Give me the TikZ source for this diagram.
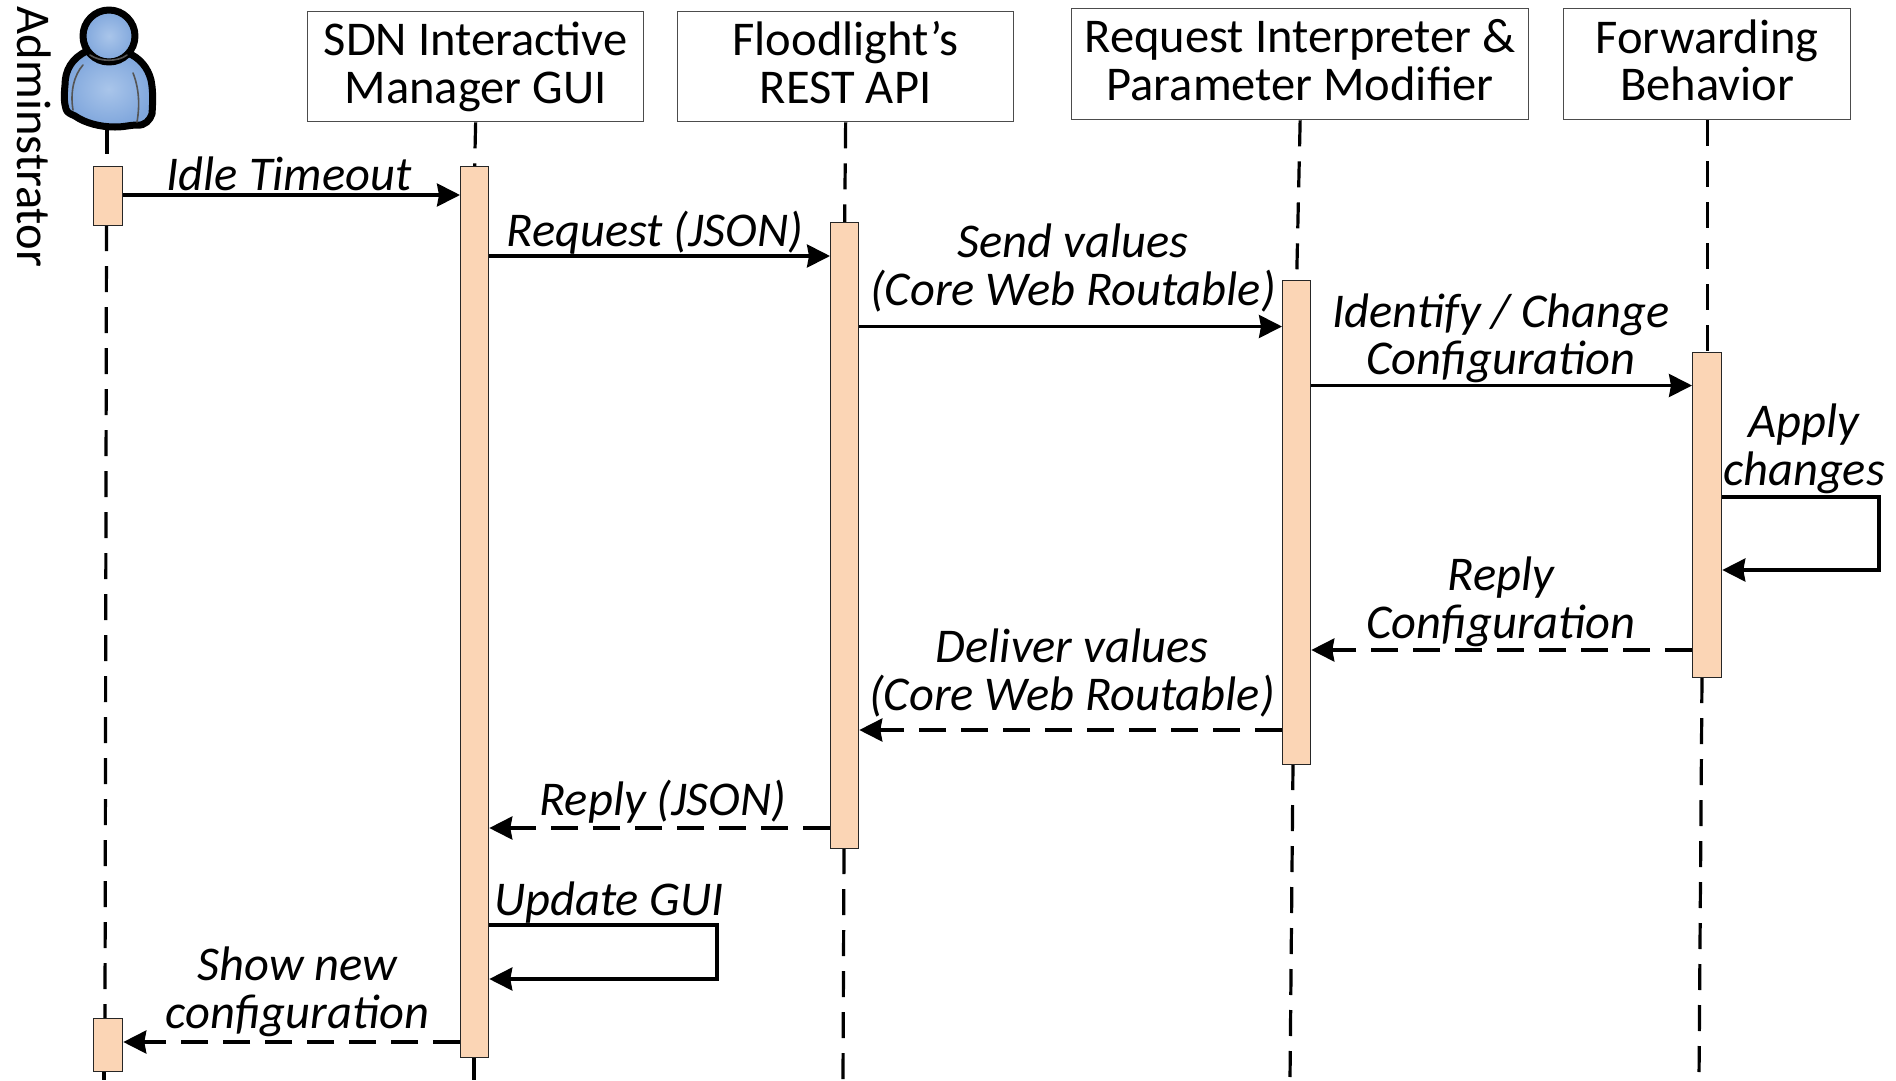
\documentclass[tikz,border=0pt]{standalone}
\usepackage{fontspec}
\setmainfont{Carlito}
\usetikzlibrary{arrows.meta,backgrounds}
\definecolor{barfill}{HTML}{FBD5B5}
\definecolor{bluelo}{HTML}{7FA6DC}
\definecolor{bluehi}{HTML}{A9C5EA}
\definecolor{seam}{HTML}{555555}
\tikzset{
  x=1pt,y=-1pt,
  lifebox/.style={draw=black!70,line width=1.3pt,fill=white,inner sep=0pt,align=center,font=\fontsize{48.5}{47.5}\selectfont,anchor=north west},
  bar/.style={draw=black!85,line width=1.3pt,fill=barfill,inner sep=0pt,anchor=north west},
  msg/.style={line width=3.2pt,-{Stealth[length=23pt,width=23pt,inset=2pt]}},
  reply/.style={msg,dash pattern=on 27pt off 15pt},
  life/.style={line width=3.2pt,dash pattern=on 26pt off 15pt},
  lbl/.style={inner sep=0pt,align=center,font=\fontsize{48.5}{47.5}\selectfont\itshape},
  personline/.style={line width=7pt,draw=black,line join=round,inner color=bluehi,outer color=bluelo},
  seamline/.style={line width=1.6pt,draw=seam,line cap=round},
}
\newcommand{\lifebox}[6]{\node[lifebox,minimum width=#4pt,minimum height=#5pt] (#1) at (#2,#3) {#6};}
\newcommand{\barbox}[5]{\node[bar,minimum width=#4pt,minimum height=#5pt] (#1) at (#2,#3) {};}
\begin{document}
\begin{tikzpicture}
\useasboundingbox (0,0) rectangle (1896,1080);
% participants
\lifebox{sdn}{307}{11}{336}{110}{SDN Interactive\\Manager GUI}
\lifebox{flood}{677}{11}{336}{110}{Floodlight’s\\REST API\vphantom{g}}
\lifebox{req}{1071}{8}{457}{111}{Request Interpreter \&\\Parameter Modifier\vphantom{g}}
\lifebox{fwd}{1563}{8}{287}{111}{Forwarding\\Behavior\vphantom{g}}
\node[rotate=-90,inner sep=0pt,font=\fontsize{48.5}{47.5}\selectfont] (admintext) at (34,137) {Adminstrator};
% activations
\barbox{a1}{93}{166}{29}{59}
\barbox{a2}{93}{1018}{29}{53}
\barbox{s1}{460}{166}{28}{891}
\barbox{f1}{830}{222}{28}{626}
\barbox{r1}{1282}{280}{28}{484}
\barbox{w1}{1692}{352}{29}{325}
% lifeline free ends
\coordinate (adminfoot) at (107,128);
\coordinate (a1foot) at (106.5,225);
\coordinate (a2top) at (105,1018);
\coordinate (a2foot) at (104,1071);
\coordinate (aend) at (104,1080);
\coordinate (send) at (474,1080);
\coordinate (fend) at (843,1080);
\coordinate (rend) at (1290,1080);
\coordinate (wend) at (1699,1080);
\coordinate (ss) at (474,1057);
\coordinate (fs) at (844,848);
\coordinate (rs) at (1293,764);
\coordinate (ws) at (1702,677);
\begin{scope}[on background layer]
\fill[white] (0,0) rectangle (1896,1080);
\draw[life] (adminfoot) -- (a1.north -| adminfoot);
\draw[life] (a1foot) -- (a2top);
\draw[life] (a2foot) -- (aend);
\draw[life] (sdn.south) -- (s1.north);
\draw[life] (ss) -- (send);
\draw[life] (flood.south) -- (f1.north);
\draw[life] (fs) -- (fend);
\draw[life] (req.south) -- (r1.north);
\draw[life] (rs) -- (rend);
\draw[life] (fwd.south) -- (w1.north);
\draw[life] (ws) -- (wend);
\end{scope}
% person icon
\path[personline] (87,51) .. controls (72,58) and (65,70) .. (65,85)
  .. controls (64,95) and (64,103) .. (66,109)
  .. controls (67,113) and (71,114) .. (75,116)
  .. controls (85,123) and (100,127) .. (115,127)
  .. controls (125,127) and (130,125) .. (137,125)
  .. controls (145,126) and (150,120) .. (152,114)
  .. controls (153,100) and (153,90) .. (151,80)
  .. controls (148,68) and (140,58) .. (128,53) -- cycle;
\path[personline] (109,36) circle[radius=26];
\draw[seamline] (90,55) .. controls (100,62) and (118,62) .. (127,55);
\draw[seamline] (83,65) .. controls (74,75) and (70,92) .. (73,110);
\draw[seamline] (133,73) .. controls (139,88) and (140,105) .. (137,122);
% messages
\draw[msg] (a1.east |- 0,195) -- (s1.west |- 0,195);
\draw[msg] (s1.east |- 0,256) -- (f1.west |- 0,256);
\draw[msg] (f1.east |- 0,326.5) -- (r1.west |- 0,326.5);
\draw[msg] (r1.east |- 0,385.5) -- (w1.west |- 0,385.5);
\draw[msg] (w1.east |- 0,497) -| (1879,570) -- (w1.east |- 0,570);
\draw[reply] (w1.west |- 0,650) -- (r1.east |- 0,650);
\draw[reply] (r1.west |- 0,730) -- (f1.east |- 0,730);
\draw[reply] (f1.west |- 0,828) -- (s1.east |- 0,828);
\draw[msg] (s1.east |- 0,925) -| (717,979) -- (s1.east |- 0,979);
\draw[reply] (s1.west |- 0,1042) -- (a2.east |- 0,1042);
% labels
\node[lbl] (l1) at (289,174) {Idle Timeout};
\node[lbl] (l2) at (655,233) {Request (JSON)};
\node[lbl] (l3) at (1073,268) {Send values\\(Core Web Routable)};
\node[lbl] (l4) at (1501,338.5) {Identify / Change\\Configuration};
\node[lbl] (l5) at (1804,449) {Apply\\changes};
\node[lbl] (l6) at (1501,602) {Reply\\Configuration};
\node[lbl] (l7) at (1072,673) {Deliver values\\(Core Web Routable)};
\node[lbl] (l8) at (663,801.5) {Reply (JSON)};
\node[lbl] (l9) at (609,903) {Update GUI};
\node[lbl] (l10) at (297.5,992) {Show new\\configuration};
\end{tikzpicture}
\end{document}
